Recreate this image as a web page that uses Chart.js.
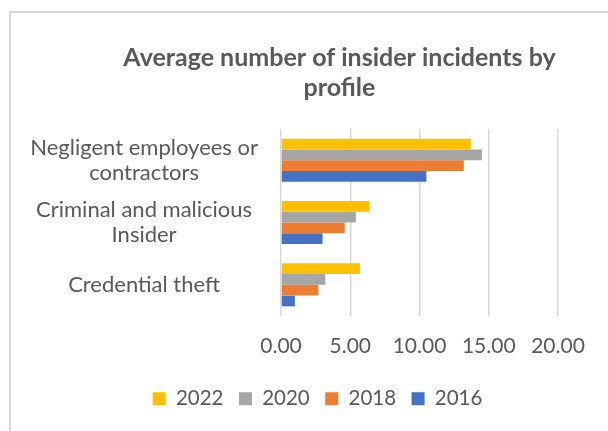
<!DOCTYPE html>
<html>
<head>
<meta charset="utf-8">
<script src="https://cdn.jsdelivr.net/npm/chart.js@4.4.1/dist/chart.umd.min.js"></script>
<style>
  html, body { margin: 0; padding: 0; background: #fff; overflow: hidden; }
  #frame {
    position: absolute; left: 9px; top: 11px;
    width: 660px; height: 440px;
    border: 2px solid #d9d9d9;
  }
  #box { position: relative; width: 660px; height: 418px; }
</style>
</head>
<body>
<div id="frame"><div id="box"><canvas id="chart"></canvas></div></div>
<script>
// Profiles and yearly averages
const profiles = [
  ['Negligent employees or', 'contractors'],
  ['Criminal and malicious', 'Insider'],
  'Credential theft'
];
const years = ['2022', '2020', '2018', '2016'];
const v2022 = [13.7, 6.4, 5.7];
const v2020 = [14.5, 5.4, 3.2];
const v2018 = [13.2, 4.6, 2.7];
const v2016 = [10.5, 3.0, 1.0];
const xTicks = [0, 5, 10, 15, 20];

const colores = ['#FFC000', '#A5A5A5', '#ED7D31', '#4472C4'];
const txt = '#595959';
const fuente = 'Lato, "Open Sans", sans-serif';

// title and legend are centred on the whole frame, not on the padded area
const centrar = {
  id: 'centrar',
  afterLayout(chart) {
    chart.titleBlock.left += 55;
    chart.titleBlock.right += 55;
    chart.legend.left += 33;
    chart.legend.right += 33;
  }
};

const series = [v2022, v2020, v2018, v2016];

new Chart(document.getElementById('chart'), {
  type: 'bar',
  data: {
    labels: profiles,
    datasets: series.map((d, i) => ({
      label: years[i],
      data: d,
      backgroundColor: colores[i],
      borderWidth: 0,
      categoryPercentage: 0.69,
      barPercentage: 1.0
    }))
  },
  options: {
    indexAxis: 'y',
    responsive: true,
    maintainAspectRatio: false,
    animation: false,
    layout: { padding: { left: 0, right: 113, top: 0, bottom: 12 } },
    plugins: {
      title: {
        display: true,
        text: ['Average number of insider incidents by', 'profile'],
        color: txt,
        font: { family: fuente, size: 25, weight: 'bold', lineHeight: 1.2 },
        padding: { top: 30, bottom: 26 }
      },
      legend: {
        position: 'bottom',
        labels: {
          color: txt,
          font: { family: fuente, size: 20.5 },
          boxWidth: 13,
          boxHeight: 13,
          padding: 15.5
        }
      },
      tooltip: { enabled: false }
    },
    scales: {
      x: {
        min: 0,
        max: 20,
        afterBuildTicks(scale) {
          scale.ticks = xTicks.map(v => ({ value: v }));
        },
        afterFit(scale) { scale.height = 57; },
        ticks: {
          color: txt,
          font: { family: fuente, size: 21 },
          padding: 18,
          callback: v => Number(v).toFixed(2)
        },
        grid: { color: '#d9d9d9', lineWidth: 1.5, drawTicks: false },
        border: { display: false }
      },
      y: {
        afterFit(scale) { scale.width = 270; },
        ticks: {
          color: txt,
          font: { family: fuente, size: 22, lineHeight: 1.15 },
          crossAlign: 'center',
          padding: 15
        },
        grid: { display: false },
        border: { display: false }
      }
    }
  },
  plugins: [centrar]
});
</script>
</body>
</html>
